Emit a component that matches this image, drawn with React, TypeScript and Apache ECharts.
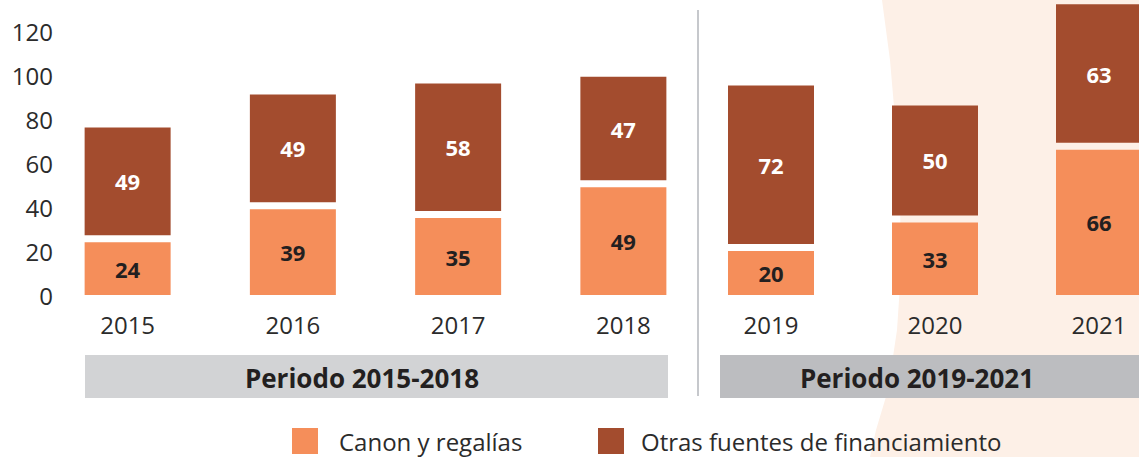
import React, { useEffect, useRef } from "react";
import * as echarts from "echarts";

const yearsA = ["2015", "2016", "2017", "2018"];
const yearsB = ["2019", "2020", "2021"];
const canonA = [24, 39, 35, 49];
const canonB = [20, 33, 66];
const otrasA = [49, 49, 58, 47];
const otrasB = [72, 50, 63];
const yTicks = [0, 20, 40, 60, 80, 100, 120];
const periods = ["Periodo 2015-2018", "Periodo 2019-2021"];
const seriesNames = ["Canon y regalías", "Otras fuentes de financiamiento"];

const C_LOW = "#F58E5A";
const C_UP = "#A34C2E";
const FONT = "'Open Sans', sans-serif";
const BAR_W = 86;
const GAP = 7;
const VIEW_W = 1139;
const CANVAS_W = 1190;
const H = 457;

function lowerRender(params: any, api: any) {
  const i = api.value(0);
  const v = api.value(1);
  const p0 = api.coord([i, 0]);
  const p1 = api.coord([i, v]);
  return {
    type: "group",
    children: [
      { type: "rect", shape: { x: p0[0] - BAR_W / 2, y: p1[1], width: BAR_W, height: p0[1] - p1[1] }, style: { fill: C_LOW } },
      {
        type: "text",
        style: { text: String(v), x: p0[0], y: (p0[1] + p1[1]) / 2, align: "center", verticalAlign: "middle", fill: "#231F20", fontSize: 22, fontWeight: "bold", fontFamily: FONT },
      },
    ],
  };
}

function upperRender(params: any, api: any) {
  const i = api.value(0);
  const v = api.value(1);
  const base = api.value(2);
  const p0 = api.coord([i, base]);
  const p1 = api.coord([i, base + v]);
  const y0 = p0[1] - GAP;
  const y1 = p1[1] - GAP;
  return {
    type: "group",
    children: [
      { type: "rect", shape: { x: p0[0] - BAR_W / 2, y: y1, width: BAR_W, height: y0 - y1 }, style: { fill: C_UP } },
      {
        type: "text",
        style: { text: String(v), x: p0[0], y: (y0 + y1) / 2, align: "center", verticalAlign: "middle", fill: "#FFFFFF", fontSize: 22, fontWeight: "bold", fontFamily: FONT },
      },
    ],
  };
}

export default function App() {
  const ref = useRef<HTMLDivElement>(null);
  useEffect(() => {
    if (!ref.current) return;
    const chart = echarts.init(ref.current, undefined, { renderer: "svg" });
    const grids = [
      { left: 45, width: 661, top: 31, height: 264 },
      { left: 689, width: 492, top: 31, height: 264 },
    ];
    const xAxisBase = {
      type: "category",
      axisLine: { show: false },
      axisTick: { show: false },
      axisLabel: { fontSize: 24, color: "#2b2b2b", fontFamily: FONT, margin: 17 },
    };
    chart.setOption({
      animation: false,
      backgroundColor: "#ffffff",
      grid: grids,
      xAxis: [
        { ...xAxisBase, gridIndex: 0, data: yearsA },
        { ...xAxisBase, gridIndex: 1, data: yearsB },
      ],
      yAxis: [
        {
          type: "value", gridIndex: 0, min: yTicks[0], max: yTicks[yTicks.length - 1], interval: 20,
          splitLine: { show: false }, axisLine: { show: false }, axisTick: { show: false },
          axisLabel: { fontSize: 24, color: "#2b2b2b", fontFamily: FONT, margin: -8 },
        },
        {
          type: "value", gridIndex: 1, min: 0, max: 120, interval: 20, show: false,
          splitLine: { show: false },
        },
      ],
      legend: [
        {
          left: 292, top: 428, padding: 0, itemWidth: 26, itemHeight: 26, icon: "rect",
          data: [{ name: seriesNames[0], itemStyle: { color: C_LOW } }],
          textStyle: { fontSize: 24, color: "#2b2b2b", fontFamily: FONT, padding: [0, 0, 0, 16] },
          selectedMode: false,
        },
        {
          left: 598, top: 428, padding: 0, itemWidth: 26, itemHeight: 26, icon: "rect",
          data: [{ name: seriesNames[1], itemStyle: { color: C_UP } }],
          textStyle: { fontSize: 24, color: "#2b2b2b", fontFamily: FONT, padding: [0, 0, 0, 12] },
          selectedMode: false,
        },
      ],
      graphic: [
        {
          type: "polygon", z: -10, silent: true,
          shape: { points: [[882, 0], [890, 60], [896, 130], [900, 200], [901, 270], [897, 330], [888, 390], [876, 430], [870, 457], [CANVAS_W, 457], [CANVAS_W, 0]] },
          style: { fill: "#FDF0E7" },
        },
        { type: "line", z: 1, shape: { x1: 698, y1: 10, x2: 698, y2: 396 }, style: { stroke: "#B3B6BB", lineWidth: 1.5 } },
        { type: "rect", z: 1, shape: { x: 85, y: 355, width: 583, height: 43 }, style: { fill: "#D2D3D5" } },
        { type: "rect", z: 1, shape: { x: 720, y: 355, width: CANVAS_W - 720, height: 43 }, style: { fill: "#BCBDC0" } },
        { type: "text", z: 2, style: { text: periods[0], x: 362, y: 378, align: "center", verticalAlign: "middle", fill: "#231F20", fontSize: 26, fontWeight: "bold", fontFamily: FONT } },
        { type: "text", z: 2, style: { text: periods[1], x: 917, y: 378, align: "center", verticalAlign: "middle", fill: "#231F20", fontSize: 26, fontWeight: "bold", fontFamily: FONT } },
      ],
      series: [
        {
          type: "custom", name: seriesNames[0], xAxisIndex: 0, yAxisIndex: 0, clip: false,
          itemStyle: { color: C_LOW }, renderItem: lowerRender,
          data: canonA.map((v, i) => [i, v]),
        },
        {
          type: "custom", name: seriesNames[1], xAxisIndex: 0, yAxisIndex: 0, clip: false,
          itemStyle: { color: C_UP }, renderItem: upperRender,
          data: otrasA.map((v, i) => [i, v, canonA[i]]),
        },
        {
          type: "custom", name: seriesNames[0], xAxisIndex: 1, yAxisIndex: 1, clip: false,
          itemStyle: { color: C_LOW }, renderItem: lowerRender,
          data: canonB.map((v, i) => [i, v]),
        },
        {
          type: "custom", name: seriesNames[1], xAxisIndex: 1, yAxisIndex: 1, clip: false,
          itemStyle: { color: C_UP }, renderItem: upperRender,
          data: otrasB.map((v, i) => [i, v, canonB[i]]),
        },
      ],
    });
    return () => chart.dispose();
  }, []);
  return (
    <div style={{ position: "absolute", left: 0, top: 0, width: VIEW_W, height: H, overflow: "hidden" }}>
      <div ref={ref} style={{ width: CANVAS_W, height: H }} />
    </div>
  );
}
